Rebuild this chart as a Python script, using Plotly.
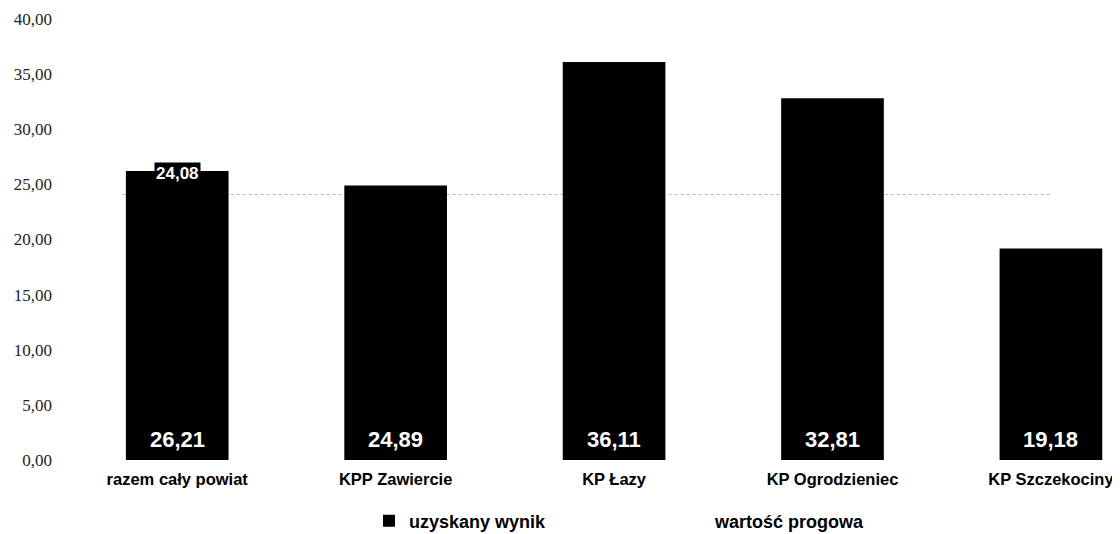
import plotly.graph_objects as go

categories = ["razem cały powiat", "KPP Zawiercie", "KP Łazy", "KP Ogrodzieniec", "KP Szczekociny"]
wynik = [26.21, 24.89, 36.11, 32.81, 19.18]
prog = [24.08, 24.08, 24.08, 24.08, 24.08]
y_ticks = [0, 5, 10, 15, 20, 25, 30, 35, 40]

sans = "Arial, Liberation Sans, sans-serif"
serif = "Times New Roman, Liberation Serif, serif"


def fmt(v):
    return f"{v:.2f}".replace(".", ",")


fig = go.Figure()
fig.add_trace(go.Bar(
    x=categories, y=wynik, name="uzyskany wynik",
    marker=dict(color="black", line=dict(width=0)),
    width=0.47, hoverinfo="skip",
))
fig.add_trace(go.Scatter(
    x=categories, y=prog, name="wartość progowa", mode="lines",
    line=dict(color="rgba(160,160,160,0.0)", width=1, dash="dot"),
    hoverinfo="skip",
))
fig.add_shape(type="line", xref="x", yref="y", x0=-0.25, x1=4.0,
              y0=prog[0], y1=prog[0], layer="below",
              line=dict(color="#b5b5b5", width=1, dash="dot"))
for c, v in zip(categories, wynik):
    fig.add_annotation(x=c, y=0, xref="x", yref="y", text=fmt(v), showarrow=False,
                       yanchor="middle", yshift=21,
                       font=dict(family=sans, size=22, color="white", weight="bold"))
fig.add_annotation(x=categories[0], y=prog[0], xref="x", yref="y",
                   text=fmt(prog[0]), showarrow=False,
                   yanchor="middle", yshift=21, bgcolor="black",
                   font=dict(family=sans, size=17, color="white", weight="bold"),
                   borderpad=1)

fig.update_layout(
    width=1120, height=534,
    margin=dict(l=60, r=5, t=11, b=82, autoexpand=False),
    paper_bgcolor="white", plot_bgcolor="white",
    separators=", ",
    showlegend=True,
    legend=dict(orientation="h", xref="container", yref="container",
                x=361 / 1120, xanchor="left", y=21 / 534, yanchor="middle",
                font=dict(family=sans, size=18, color="black", weight="bold"),
                entrywidth=261, itemwidth=30),
    xaxis=dict(range=[-0.5, 4.33], showline=False, showgrid=False, ticks="",
               ticklabelstandoff=7,
               tickfont=dict(family=sans, size=16.5, color="black", weight="bold")),
    yaxis=dict(range=[0, 40], tickvals=y_ticks, tickformat=".2f", showgrid=False,
               zeroline=False, showline=False, ticks="", ticklabelstandoff=15,
               tickfont=dict(family=serif, size=17, color="#222222")),
    bargap=0.53,
)
fig.write_html("out.html")
